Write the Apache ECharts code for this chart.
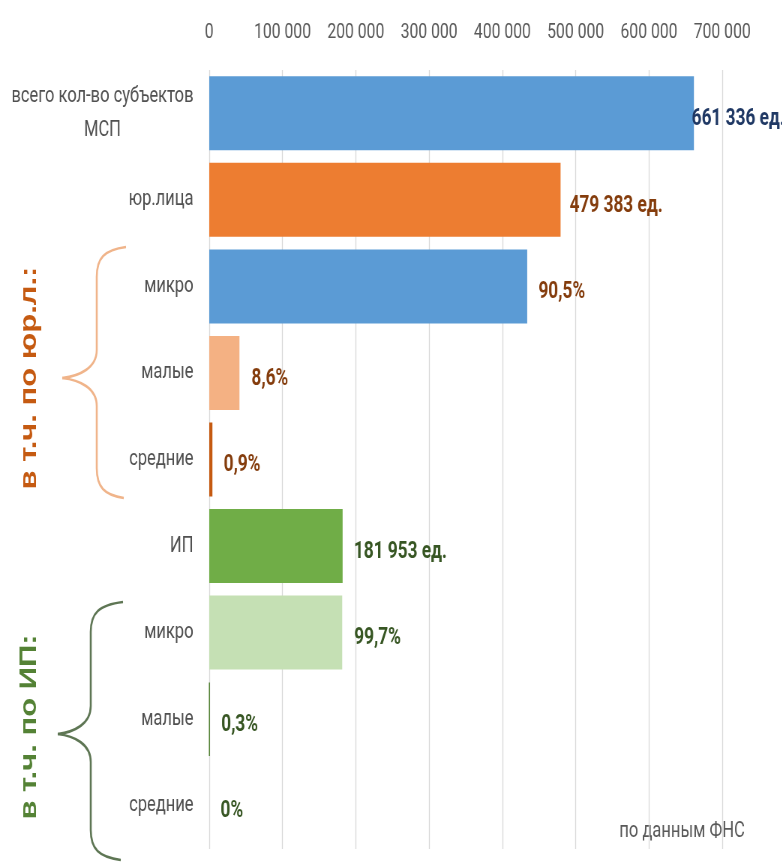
<!DOCTYPE html>
<html>
<head>
<meta charset="utf-8">
<script src="https://cdn.jsdelivr.net/npm/echarts@6/dist/echarts.min.js"></script>
<style>
  html, body { margin: 0; padding: 0; background: #ffffff; overflow: hidden; }
  /* the chart is laid out wider and squeezed horizontally to get condensed lettering */
  #chart {
    width: 1043px;
    height: 863px;
    transform: scaleX(0.75);
    transform-origin: 0 0;
  }
</style>
</head>
<body>
<div id="chart"></div>
<script>
// Субъекты МСП: всего, юр.лица и ИП с разбивкой по размеру
const categories = [
  'всего кол-во субъектов\nМСП', 'юр.лица', 'микро', 'малые', 'средние',
  'ИП', 'микро', 'малые', 'средние'
];
const counts = [661336, 479383, 433842, 41227, 4314, 181953, 181407, 546, 0];
const valueLabels = [
  '661 336 ед.', '479 383 ед.', '90,5%', '8,6%', '0,9%',
  '181 953 ед.', '99,7%', '0,3%', '0%'
];
const barColors = [
  '#5B9BD5', '#ED7D31', '#5B9BD5', '#F4B183', '#C55A11',
  '#70AD47', '#C5E0B4', '#548235', '#548235'
];
const labelColors = [
  '#1F3864', '#843C0C', '#843C0C', '#843C0C', '#843C0C',
  '#375623', '#375623', '#375623', '#375623'
];
const labelGaps = [-3, 12, 15, 16, 15, 15, 16, 15, 15];

const SANS = "Roboto, 'Noto Sans', sans-serif";
const BOLD_WIDE = "'Liberation Sans', Arial, sans-serif";

function spaced(v) {
  return String(v).replace(/\B(?=(\d{3})+(?!\d))/g, ' ');
}

// Curly brace built from bezier curves and straight segments
// x0: end points, xs: spine, xt: tip, y0..y1 extent, ym: tip height
function brace(x0, xs, xt, y0, ym, y1, color) {
  const style = { fill: 'none', stroke: color, lineWidth: 2.6 };
  const r = 30;
  const k = (x0 - xs) * 0.25;
  const t = (xs - xt) * 0.5;
  return [
    { type: 'bezierCurve', shape: { x1: x0, y1: y0, cpx1: xs + k, cpy1: y0 + 3, cpx2: xs, cpy2: y0 + 11, x2: xs, y2: y0 + r }, style },
    { type: 'line', shape: { x1: xs, y1: y0 + r, x2: xs, y2: ym - 28 }, style },
    { type: 'bezierCurve', shape: { x1: xs, y1: ym - 28, cpx1: xs, cpy1: ym - 10, cpx2: xt + t, cpy2: ym - 2, x2: xt, y2: ym }, style },
    { type: 'bezierCurve', shape: { x1: xt, y1: ym, cpx1: xt + t, cpy1: ym + 2, cpx2: xs, cpy2: ym + 10, x2: xs, y2: ym + 28 }, style },
    { type: 'line', shape: { x1: xs, y1: ym + 28, x2: xs, y2: y1 - r }, style },
    { type: 'bezierCurve', shape: { x1: xs, y1: y1 - r, cpx1: xs, cpy1: y1 - 11, cpx2: xs + k, cpy2: y1 - 3, x2: x0 - 3, y2: y1 }, style }
  ];
}

const chart = echarts.init(document.getElementById('chart'), null, { renderer: 'canvas' });

chart.setOption({
  backgroundColor: '#ffffff',
  animation: false,
  grid: {
    left: 279, right: 80, top: 70, bottom: 14,
    containLabel: false,
    outerBoundsMode: 'none'
  },
  xAxis: {
    type: 'value',
    position: 'top',
    min: 0,
    max: 700000,
    interval: 100000,
    axisLine: { show: false },
    axisTick: { show: false },
    axisLabel: {
      margin: 27,
      color: '#595959',
      fontFamily: SANS,
      fontSize: 21,
      formatter: spaced
    },
    splitLine: { lineStyle: { color: '#D9D9D9', width: 1.3 } }
  },
  yAxis: {
    type: 'category',
    inverse: true,
    data: categories,
    axisLine: { show: false },
    axisTick: { show: false },
    axisLabel: {
      margin: 21,
      formatter: v => '{c|' + v + '}',
      rich: {
        c: {
          align: 'center',
          color: '#505050',
          fontFamily: SANS,
          fontSize: 22,
          lineHeight: 34
        }
      }
    }
  },
  series: [{
    type: 'bar',
    barCategoryGap: '14.5%',
    data: counts.map((v, i) => ({
      value: v,
      itemStyle: i === 7
        ? { color: barColors[i], borderColor: barColors[i], borderWidth: 1.5 }
        : { color: barColors[i] },
      label: {
        show: true,
        position: 'right',
        distance: labelGaps[i],
        formatter: valueLabels[i],
        color: labelColors[i],
        fontFamily: SANS,
        fontWeight: 'bold',
        fontSize: 23,
        offset: [0, 6]
      }
    }))
  }],
  graphic: [].concat(
    brace(168, 129, 83, 247, 378, 498, '#F0B48A'),
    brace(164, 121, 77, 602, 734, 860, '#5E7654'),
    [
      {
        type: 'text',
        x: 39,
        y: 378,
        rotation: Math.PI / 2,
        style: {
          text: 'в т.ч. по юр.л.:',
          fill: '#C55A11',
          font: 'bold 31px ' + BOLD_WIDE,
          align: 'center',
          verticalAlign: 'middle'
        }
      },
      {
        type: 'text',
        x: 39,
        y: 727,
        rotation: Math.PI / 2,
        style: {
          text: 'в т.ч. по ИП:',
          fill: '#548235',
          font: 'bold 31px ' + BOLD_WIDE,
          align: 'center',
          verticalAlign: 'middle'
        }
      },
      {
        type: 'text',
        x: 993,
        y: 831,
        style: {
          text: 'по данным ФНС',
          fill: '#595959',
          font: '22px ' + SANS,
          align: 'right',
          verticalAlign: 'middle'
        }
      }
    ]
  )
});
</script>
</body>
</html>
